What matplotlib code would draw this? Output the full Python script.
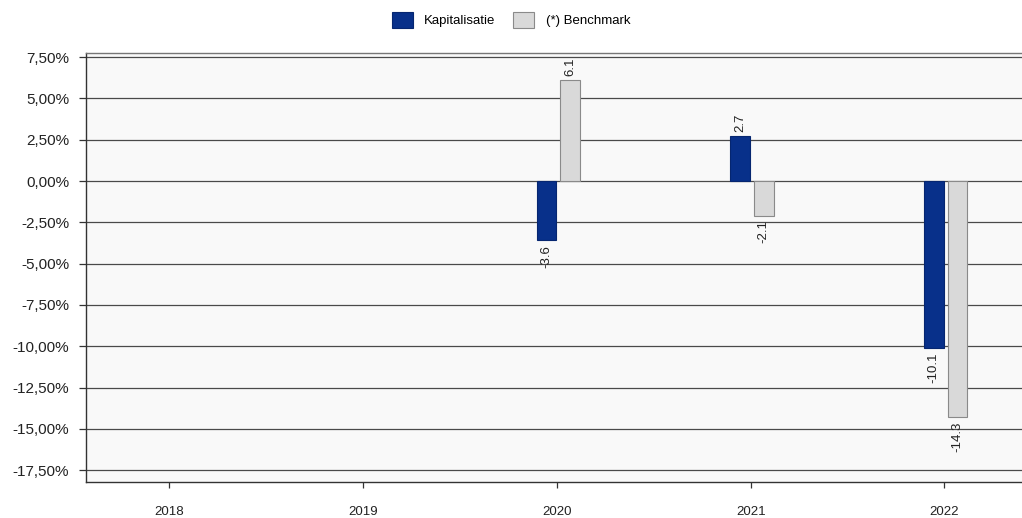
import numpy as np
import matplotlib
matplotlib.use("Agg")
import matplotlib.pyplot as plt
from matplotlib.ticker import FuncFormatter, MultipleLocator

# Annual returns (%) per year
years = ["2018", "2019", "2020", "2021", "2022"]
kapitalisatie = [np.nan, np.nan, -3.6, 2.7, -10.1]
benchmark = [np.nan, np.nan, 6.1, -2.1, -14.3]
series_names = ["Kapitalisatie", "(*) Benchmark"]

plt.rcParams["font.family"] = ["Liberation Sans", "DejaVu Sans"]

fig = plt.figure(figsize=(10.22, 5.18), dpi=100)
ax = fig.add_axes([86 / 1022, 36 / 518, 1 - 86 / 1022, (482 - 53) / 518])
ax.set_facecolor("#f9f9f9")

x = np.arange(len(years))
width = 0.10
blue = "#08308a"
grey = "#d9d9d9"

b1 = ax.bar(x - 0.055, kapitalisatie, width, color=blue, edgecolor="#062670",
            linewidth=0.8, zorder=3, label=series_names[0])
b2 = ax.bar(x + 0.068, benchmark, width, color=grey, edgecolor="#8a8a8a",
            linewidth=0.8, zorder=3, label=series_names[1])

# Rotated value labels at the bar ends
for xs, vals in ((x - 0.055, kapitalisatie), (x + 0.068, benchmark)):
    for xi, v in zip(xs, vals):
        if np.isnan(v):
            continue
        ax.annotate(f"{v:.1f}", (xi, v), xytext=(0, 3 if v > 0 else -3),
                    textcoords="offset points", rotation=90, ha="center",
                    va="bottom" if v > 0 else "top", fontsize=9.5,
                    color="#222222", zorder=4)

ax.set_xlim(-0.43, 4.4)
ax.set_ylim(-18.22, 7.75)
ax.yaxis.set_major_locator(MultipleLocator(2.5))
ax.yaxis.set_major_formatter(
    FuncFormatter(lambda v, _: f"{v:.2f}".replace(".", ",") + "%"))
ax.set_xticks(x)
ax.set_xticklabels(years)

ax.grid(axis="y", color="#4a4a4a", linewidth=0.9, zorder=1)
ax.set_axisbelow(True)

for side in ("left", "bottom", "top"):
    ax.spines[side].set_color("#333333")
    ax.spines[side].set_linewidth(1.0)
ax.spines["top"].set_color("#777777")
ax.spines["right"].set_visible(False)

ax.tick_params(axis="y", direction="out", length=5, width=0.9,
               colors="#333333", labelsize=11, pad=7)
ax.tick_params(axis="x", direction="out", length=4, width=0.9,
               colors="#333333", labelsize=9.5, pad=13)
for lbl in ax.get_yticklabels() + ax.get_xticklabels():
    lbl.set_color("#222222")

fig.legend(handles=[b1, b2], labels=series_names, loc="center",
           bbox_to_anchor=(0.5, 1 - 20 / 518), ncol=2, frameon=False,
           fontsize=9.5, handlelength=1.6, handleheight=1.45,
           handletextpad=0.85, columnspacing=1.35)

fig.savefig("out.png", dpi=100)
